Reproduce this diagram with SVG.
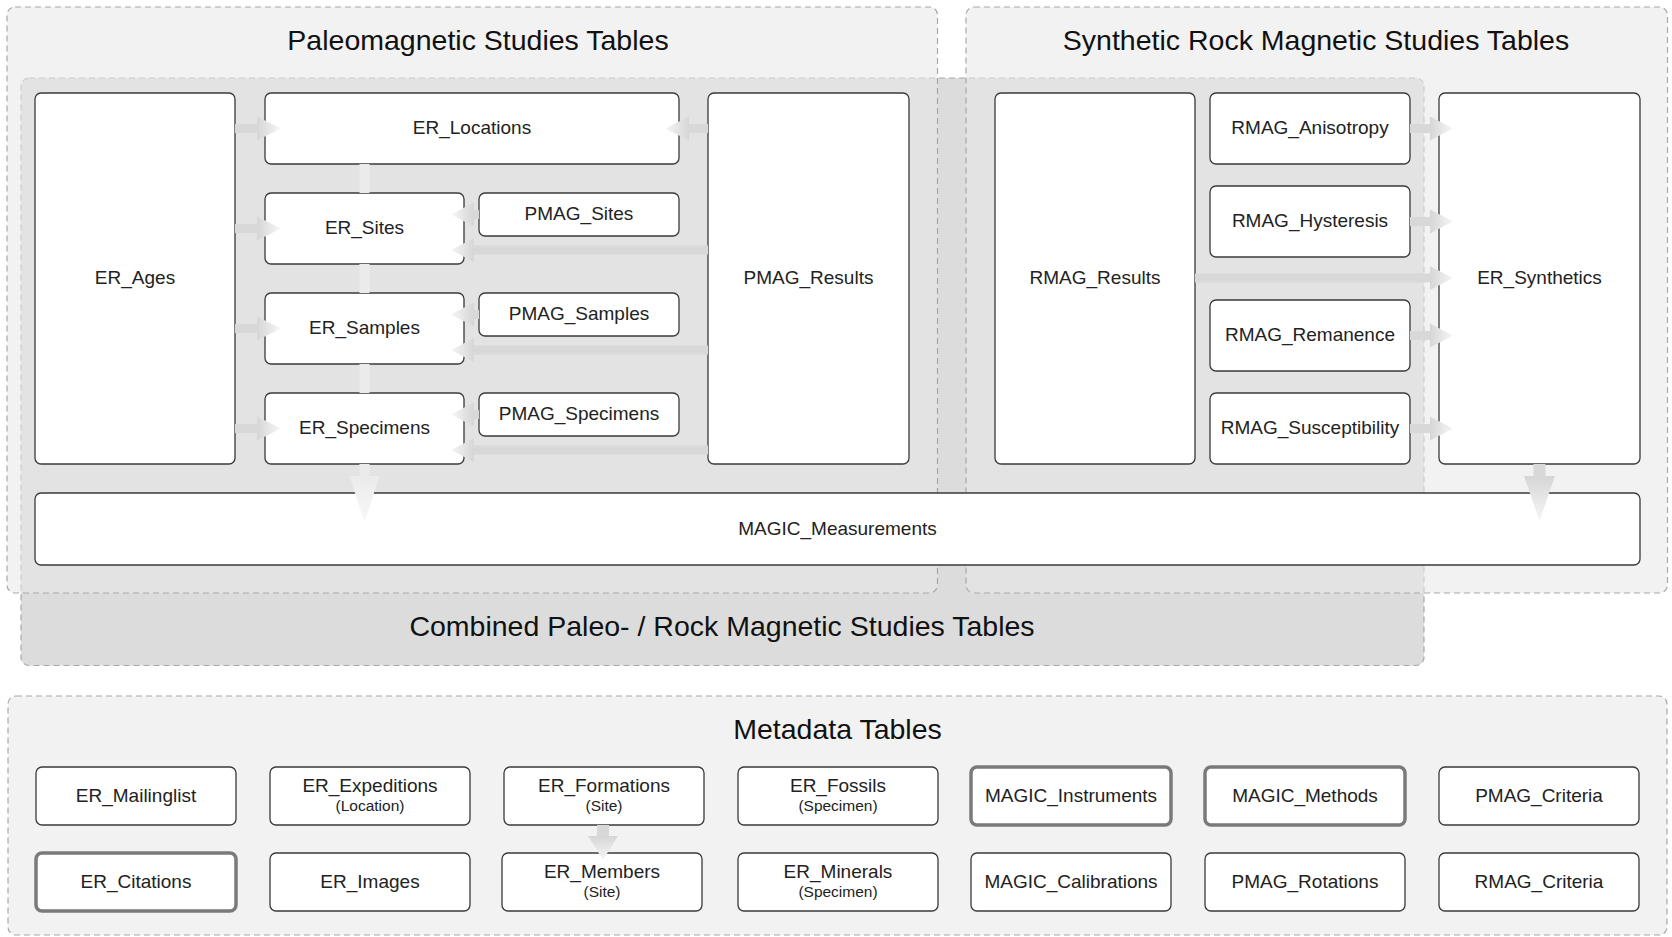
<svg xmlns="http://www.w3.org/2000/svg" width="1672" height="937" viewBox="0 0 1672 937">
<defs>
<linearGradient id="gR" x1="0" y1="0" x2="1" y2="0"><stop offset="0" stop-color="#d6d6d6"/><stop offset="1" stop-color="#f6f6f6"/></linearGradient>
<linearGradient id="gL" x1="1" y1="0" x2="0" y2="0"><stop offset="0" stop-color="#d6d6d6"/><stop offset="1" stop-color="#f6f6f6"/></linearGradient>
<linearGradient id="gD" x1="0" y1="0" x2="0" y2="1"><stop offset="0" stop-color="#d6d6d6"/><stop offset="1" stop-color="#f6f6f6"/></linearGradient>
<linearGradient id="gDL" x1="0" y1="0" x2="0" y2="1"><stop offset="0" stop-color="#ebebeb"/><stop offset="1" stop-color="#f8f8f8"/></linearGradient>
<style>
.grp{stroke:#a8a8a8;stroke-width:1.2;stroke-dasharray:6 4}
.outer{fill:#e8e8e8;fill-opacity:0.57}
.comb{fill:#dcdcdc}
.meta{fill:#f2f2f2}
.title{font-family:"Liberation Sans",Arial,sans-serif;font-size:28.5px;fill:#111;text-anchor:middle}
.n rect{fill:#fff;stroke:#3a3a3a;stroke-width:1.3}
.n.thick rect{stroke:#7a7a7a;stroke-width:3.5}
.n text{font-family:"Liberation Sans",Arial,sans-serif;font-size:19px;fill:#222;text-anchor:middle}
.n text.sub{font-size:15.5px}
.shaft{fill:#d8d8d8}
.shaftL{fill:#ebebeb}
.hR{fill:url(#gR)}
.hL{fill:url(#gL)}
.hD{fill:url(#gD)}
.hDL{fill:url(#gDL)}
</style>
</defs>
<rect width="1672" height="937" fill="#fff"/>

<g id="groups">
<rect id="grp-combined" class="grp comb" x="21" y="78" width="1403" height="587.5" rx="8"/>
<rect id="grp-paleo" class="grp outer" x="7" y="7" width="930.5" height="586" rx="8"/>
<rect id="grp-synthetic" class="grp outer" x="966" y="7" width="701.5" height="586" rx="8"/>
<rect id="grp-metadata" class="grp meta" x="8" y="696" width="1659" height="239" rx="8"/>
<text class="title" x="478" y="50">Paleomagnetic Studies Tables</text>
<text class="title" x="1316" y="50">Synthetic Rock Magnetic Studies Tables</text>
<text class="title" x="722" y="636">Combined Paleo- / Rock Magnetic Studies Tables</text>
<text class="title" x="837.5" y="739">Metadata Tables</text>
</g>

<g id="n-er-ages" class="n"><rect x="35" y="93" width="200" height="371" rx="6"/><text x="135" y="284">ER_Ages</text></g>
<g id="n-er-locations" class="n"><rect x="265" y="93" width="414" height="71" rx="6"/><text x="472" y="134">ER_Locations</text></g>
<g id="n-er-sites" class="n"><rect x="265" y="193" width="199" height="71" rx="6"/><text x="364.5" y="234">ER_Sites</text></g>
<g id="n-pmag-sites" class="n"><rect x="479" y="193" width="200" height="43" rx="6"/><text x="579" y="220">PMAG_Sites</text></g>
<g id="n-er-samples" class="n"><rect x="265" y="293" width="199" height="71" rx="6"/><text x="364.5" y="334">ER_Samples</text></g>
<g id="n-pmag-samples" class="n"><rect x="479" y="293" width="200" height="43" rx="6"/><text x="579" y="320">PMAG_Samples</text></g>
<g id="n-er-specimens" class="n"><rect x="265" y="393" width="199" height="71" rx="6"/><text x="364.5" y="434">ER_Specimens</text></g>
<g id="n-pmag-specimens" class="n"><rect x="479" y="393" width="200" height="43" rx="6"/><text x="579" y="420">PMAG_Specimens</text></g>
<g id="n-pmag-results" class="n"><rect x="708" y="93" width="201" height="371" rx="6"/><text x="808.5" y="284">PMAG_Results</text></g>

<g id="n-rmag-results" class="n"><rect x="995" y="93" width="200" height="371" rx="6"/><text x="1095" y="284">RMAG_Results</text></g>
<g id="n-rmag-anisotropy" class="n"><rect x="1210" y="93" width="200" height="71" rx="6"/><text x="1310" y="134">RMAG_Anisotropy</text></g>
<g id="n-rmag-hysteresis" class="n"><rect x="1210" y="186" width="200" height="71" rx="6"/><text x="1310" y="227">RMAG_Hysteresis</text></g>
<g id="n-rmag-remanence" class="n"><rect x="1210" y="300" width="200" height="71" rx="6"/><text x="1310" y="341">RMAG_Remanence</text></g>
<g id="n-rmag-susceptibility" class="n"><rect x="1210" y="393" width="200" height="71" rx="6"/><text x="1310" y="434">RMAG_Susceptibility</text></g>
<g id="n-er-synthetics" class="n"><rect x="1439" y="93" width="201" height="371" rx="6"/><text x="1539.5" y="284">ER_Synthetics</text></g>

<g id="n-magic-measurements" class="n"><rect x="35" y="493" width="1605" height="72" rx="6"/><text x="837.5" y="535">MAGIC_Measurements</text></g>

<g id="n-er-mailinglist" class="n"><rect x="36" y="767" width="200" height="58" rx="6"/><text x="136" y="802">ER_Mailinglist</text></g>
<g id="n-er-expeditions" class="n"><rect x="270" y="767" width="200" height="58" rx="6"/><text x="370" y="792">ER_Expeditions</text><text class="sub" x="370" y="811">(Location)</text></g>
<g id="n-er-formations" class="n"><rect x="504" y="767" width="200" height="58" rx="6"/><text x="604" y="792">ER_Formations</text><text class="sub" x="604" y="811">(Site)</text></g>
<g id="n-er-fossils" class="n"><rect x="738" y="767" width="200" height="58" rx="6"/><text x="838" y="792">ER_Fossils</text><text class="sub" x="838" y="811">(Specimen)</text></g>
<g id="n-magic-instruments" class="n thick"><rect x="971" y="767" width="200" height="58" rx="6"/><text x="1071" y="802">MAGIC_Instruments</text></g>
<g id="n-magic-methods" class="n thick"><rect x="1205" y="767" width="200" height="58" rx="6"/><text x="1305" y="802">MAGIC_Methods</text></g>
<g id="n-pmag-criteria" class="n"><rect x="1439" y="767" width="200" height="58" rx="6"/><text x="1539" y="802">PMAG_Criteria</text></g>

<g id="n-er-citations" class="n thick"><rect x="36" y="853" width="200" height="58" rx="6"/><text x="136" y="888">ER_Citations</text></g>
<g id="n-er-images" class="n"><rect x="270" y="853" width="200" height="58" rx="6"/><text x="370" y="888">ER_Images</text></g>
<g id="n-er-members" class="n"><rect x="502" y="853" width="200" height="58" rx="6"/><text x="602" y="878">ER_Members</text><text class="sub" x="602" y="897">(Site)</text></g>
<g id="n-er-minerals" class="n"><rect x="738" y="853" width="200" height="58" rx="6"/><text x="838" y="878">ER_Minerals</text><text class="sub" x="838" y="897">(Specimen)</text></g>
<g id="n-magic-calibrations" class="n"><rect x="971" y="853" width="200" height="58" rx="6"/><text x="1071" y="888">MAGIC_Calibrations</text></g>
<g id="n-pmag-rotations" class="n"><rect x="1205" y="853" width="200" height="58" rx="6"/><text x="1305" y="888">PMAG_Rotations</text></g>
<g id="n-rmag-criteria" class="n"><rect x="1439" y="853" width="200" height="58" rx="6"/><text x="1539" y="888">RMAG_Criteria</text></g>

<g id="connectors">
<rect class="shaft" x="235" y="124" width="22" height="9"/><polygon class="hR" points="257,116.5 281,128.5 257,140.5"/>
<rect class="shaft" x="235" y="224" width="22" height="9"/><polygon class="hR" points="257,216.5 281,228.5 257,240.5"/>
<rect class="shaft" x="235" y="324" width="22" height="9"/><polygon class="hR" points="257,316.5 281,328.5 257,340.5"/>
<rect class="shaft" x="235" y="424" width="22" height="9"/><polygon class="hR" points="257,416.5 281,428.5 257,440.5"/>
<rect class="shaft" x="689" y="124" width="19" height="9"/><polygon class="hL" points="689,116.5 665,128.5 689,140.5"/>
<rect class="shaft" x="474" y="210" width="5" height="9"/><polygon class="hL" points="474,202.5 451,214.5 474,226.5"/>
<rect class="shaft" x="474" y="310" width="5" height="9"/><polygon class="hL" points="474,302.5 451,314.5 474,326.5"/>
<rect class="shaft" x="474" y="410" width="5" height="9"/><polygon class="hL" points="474,402.5 451,414.5 474,426.5"/>
<rect class="shaft" x="474" y="245.5" width="234" height="9"/><polygon class="hL" points="474,238 451,250 474,262"/>
<rect class="shaft" x="474" y="345.5" width="234" height="9"/><polygon class="hL" points="474,338 451,350 474,362"/>
<rect class="shaft" x="474" y="445.5" width="234" height="9"/><polygon class="hL" points="474,438 451,450 474,462"/>
<path class="shaftL" d="M359.5 164H369.5V193H359.5Z M359.5 264H369.5V293H359.5Z M359.5 364H369.5V393H359.5Z M359.5 464H369.5V476H359.5Z"/>
<polygon class="hDL" points="349.5,476 379.5,476 364.5,522"/>
<rect class="shaft" x="1410" y="124" width="20" height="9"/><polygon class="hR" points="1430,116.5 1453,128.5 1430,140.5"/>
<rect class="shaft" x="1410" y="217" width="20" height="9"/><polygon class="hR" points="1430,209.5 1453,221.5 1430,233.5"/>
<rect class="shaft" x="1410" y="331" width="20" height="9"/><polygon class="hR" points="1430,323.5 1453,335.5 1430,347.5"/>
<rect class="shaft" x="1410" y="424" width="20" height="9"/><polygon class="hR" points="1430,416.5 1453,428.5 1430,440.5"/>
<rect class="shaft" x="1195" y="273.5" width="235" height="9"/><polygon class="hR" points="1430,266 1453,278 1430,290"/>
<rect class="shaft" x="1533.5" y="464" width="12" height="12"/><polygon class="hD" points="1524,476 1555,476 1539.5,521"/>
<rect class="shaft" x="597" y="825" width="12" height="11"/><polygon class="hD" points="588,836 618,836 603,860"/>
</g>
</svg>
